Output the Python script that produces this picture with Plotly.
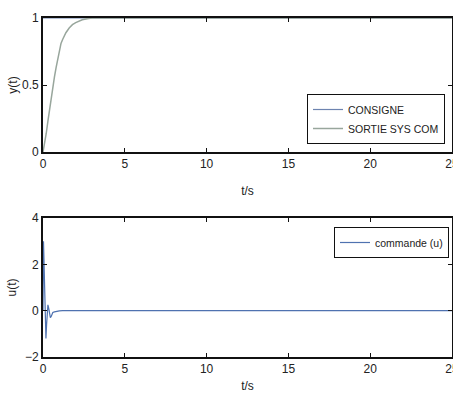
import plotly.graph_objects as go

# Step response of the closed loop (output vs. setpoint)
t_out = [0, 0.1, 0.2, 0.3, 0.4, 0.5, 0.6, 0.7, 0.8, 0.9, 1.0, 1.1, 1.2, 1.4, 1.6,
         1.8, 2.0, 2.2, 2.4, 2.7, 3.0, 25]
y_out = [0, 0.06, 0.14, 0.23, 0.32, 0.41, 0.49, 0.56, 0.63, 0.70, 0.76, 0.81, 0.84,
         0.89, 0.925, 0.95, 0.965, 0.978, 0.987, 0.995, 1.0, 1.0]
t_ref = [0, 25]
y_ref = [1, 1]

# Control signal u(t)
t_u = [0, 0.03, 0.06, 0.1, 0.14, 0.18, 0.22, 0.26, 0.3, 0.35, 0.4, 0.45, 0.5, 0.55,
       0.6, 0.7, 0.8, 0.9, 1.0, 1.2, 1.5, 2, 3, 4, 5, 6, 7, 8, 9, 10, 11, 12, 13,
       14, 15, 16, 17, 18, 19, 20, 21, 22, 23, 24, 25]
u = [0, 3.0, 2.2, 1.0, -0.4, -1.2, -0.6, 0.1, 0.25, 0.1, -0.15, -0.3, -0.25, -0.12,
     -0.08, -0.05, -0.03, -0.02, -0.01, 0.0, 0.0, 0.005, -0.005, 0.005, 0.0, 0.008,
     -0.006, 0.01, -0.01, 0.012, -0.008, 0.01, -0.012, 0.01, 0.012, -0.008, 0.01,
     -0.01, 0.012, 0.008, -0.008, 0.01, -0.008, 0.008, 0.0]

W, H = 453, 393
x_dom = [43 / W, 452 / W]
top_dom = [(H - 152) / H, (H - 18) / H]
bot_dom = [(H - 357) / H, (H - 218) / H]

font = dict(family="Liberation Sans Narrow, Liberation Sans, Arial", size=12, color="#222")
leg_font = dict(family=font["family"], size=10.5, color="#222")

fig = go.Figure()
fig.add_trace(go.Scatter(x=t_ref, y=y_ref, mode="lines", name="CONSIGNE",
                         line=dict(color="#6d84b0", width=1.2), xaxis="x", yaxis="y",
                         legend="legend"))
fig.add_trace(go.Scatter(x=t_out, y=y_out, mode="lines", name="SORTIE SYS COM",
                         line=dict(color="#98a69c", width=1.5), xaxis="x", yaxis="y",
                         legend="legend"))
fig.add_trace(go.Scatter(x=t_u, y=u, mode="lines", name="commande (u)",
                         line=dict(color="#4f72b0", width=1.2), xaxis="x2", yaxis="y2",
                         legend="legend2"))

axis_common = dict(showline=True, mirror="ticks", linecolor="#111", linewidth=1.6,
                   ticks="inside", ticklen=4, tickcolor="#111", showgrid=False,
                   zeroline=False, tickfont=font, automargin=False)

fig.update_layout(
    width=W, height=H,
    margin=dict(l=0, r=0, t=0, b=0, autoexpand=False),
    paper_bgcolor="white", plot_bgcolor="white",
    font=font,
    xaxis=dict(axis_common, domain=x_dom, range=[0, 25], anchor="y",
               tickvals=[0, 5, 10, 15, 20, 25], ticklabeloverflow="allow",
               title=dict(text="t/s", font=font, standoff=16)),
    yaxis=dict(axis_common, domain=top_dom, range=[0, 1], anchor="x",
               tickvals=[0, 0.5, 1], ticktext=["0", "0.5", "1"],
               title=dict(text="y(t)", font=font, standoff=2)),
    xaxis2=dict(axis_common, domain=x_dom, range=[0, 25], anchor="y2",
                tickvals=[0, 5, 10, 15, 20, 25], ticklabeloverflow="allow",
                title=dict(text="t/s", font=font, standoff=16)),
    yaxis2=dict(axis_common, domain=bot_dom, range=[-2, 4], anchor="x2",
                tickvals=[-2, 0, 2, 4],
                title=dict(text="u(t)", font=font, standoff=6)),
    legend=dict(x=445 / W, y=(H - 94) / H, xanchor="right", yanchor="top",
                bgcolor="white", bordercolor="#111", borderwidth=1,
                font=leg_font, tracegroupgap=0, itemwidth=30),
    legend2=dict(x=449 / W, y=(H - 227) / H, xanchor="right", yanchor="top",
                 bgcolor="white", bordercolor="#111", borderwidth=1,
                 font=leg_font, itemwidth=30),
    showlegend=True,
)

fig.write_html("out.html")
